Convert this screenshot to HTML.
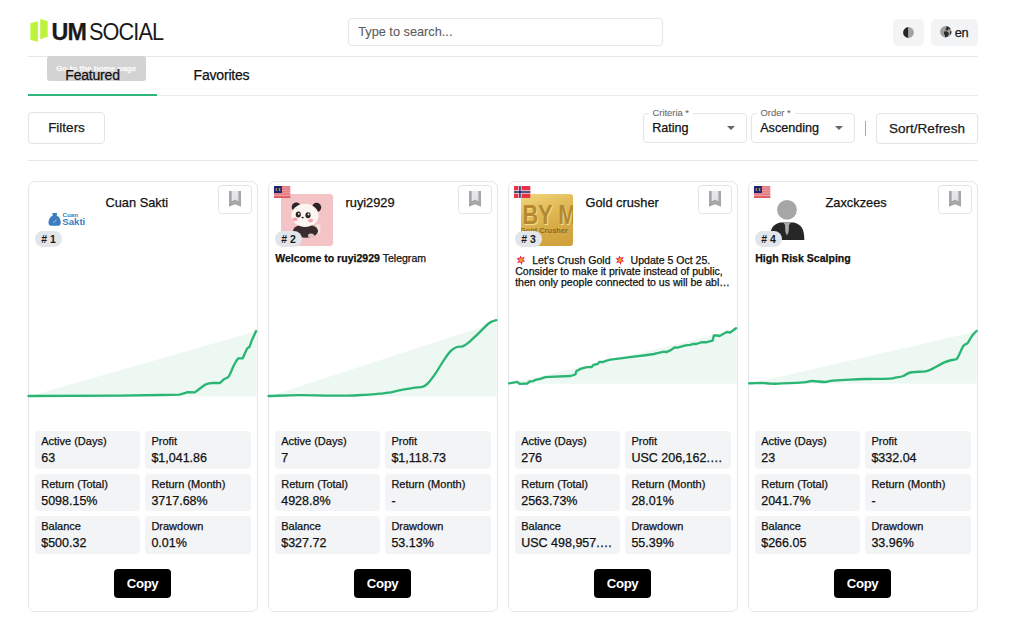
<!DOCTYPE html>
<html lang="en">
<head>
<meta charset="utf-8">
<title>UM Social</title>
<style>
*{box-sizing:border-box;margin:0;padding:0}
html,body{width:1024px;height:620px;overflow:hidden;background:#fff}
body{font-family:"Liberation Sans",Arial,sans-serif;color:#111;position:relative;-webkit-text-stroke:0.25px currentColor}
.abs{position:absolute}
/* header */
.logo{left:30px;top:18px;width:140px;height:26px}
.logo .b1{position:absolute;left:1px;top:4px;width:7.5px;height:20px;background:#c6f432;transform:skewY(-8deg)}
.logo .b2{position:absolute;left:10.5px;top:0.5px;width:7.5px;height:20px;background:#c6f432;transform:skewY(8deg)}
.logo .t{position:absolute;left:21.5px;top:0.8px;font-size:23.3px;line-height:26px;color:#1a1a1a;white-space:nowrap}
.logo .t b{font-weight:700;letter-spacing:-0.9px}
.logo .t span{display:inline-block;margin-left:2.6px;letter-spacing:-0.95px;transform:scaleX(0.93);transform-origin:0 0;-webkit-text-stroke:0}
.search{left:348px;top:18px;width:315px;height:28px;border:1px solid #e3e6ea;border-radius:4px;font-size:12.75px;color:#5c5c5c;padding:0 0 0 9.2px;line-height:26px;-webkit-text-stroke:0.1px currentColor}
.ibtn{top:19px;height:27px;background:#f3f4f6;border-radius:5px}
.hline{left:28px;width:950px;height:1px;background:#e6e8eb}
/* tabs */
.tab{top:62px;font-size:14px;line-height:26px;color:#111;text-align:center;letter-spacing:-0.2px;z-index:2}
.tip{left:47px;top:56.3px;width:98.5px;height:24.5px;background:#d3d3d3;border-radius:3px;color:rgba(255,255,255,.85);font-size:8.05px;line-height:26.5px;text-align:center;white-space:nowrap;font-weight:700;z-index:1}
/* filter row */
.btn{border:1px solid #e1e4e8;border-radius:4px;background:#fff;font-size:13.5px;color:#1a1a1a;text-align:center}
.sel{top:112.5px;height:30.5px;border:1px solid #e1e4e8;border-radius:4px}
.sel .lab{position:absolute;left:4.5px;top:-5.5px;background:#fff;padding:0 4px;font-size:9.4px;line-height:10px;color:#6a6a6a;-webkit-text-stroke:0.1px currentColor}
.sel .val{position:absolute;left:8.2px;top:6.5px;font-size:12.6px;line-height:16px;color:#111}
.sel .arr{position:absolute;right:11px;top:12.3px;width:0;height:0;border-left:4px solid transparent;border-right:4px solid transparent;border-top:4px solid #666}
/* cards */
.card{top:181px;width:230px;height:430.8px;border:1px solid #e3e6ea;border-radius:7px;background:#fff;overflow:hidden}
.card .name{position:absolute;left:76.5px;top:12.9px;font-size:12.8px;line-height:16px;color:#111;white-space:nowrap}
.card .bm{position:absolute;right:5px;top:3px;width:34px;height:29px;border:1px solid #e1e4e8;border-radius:4px}
.card .bm svg{position:absolute;left:9.8px;top:4.9px}
.card .flag{position:absolute;left:5.3px;top:3.9px;width:16.3px;height:12px}
.card .flag svg{display:block;width:100%;height:100%}
.card .av{position:absolute;left:12.2px;top:12.4px;width:52px;height:52px;border-radius:3px;overflow:hidden}
.card .rank{position:absolute;left:6px;top:49.3px;width:27px;height:16px;border-radius:8px;background:#e2e5ea;font-size:10.5px;line-height:16px;font-weight:700;text-align:center;color:#1a1a1a;-webkit-text-stroke:0}
.card .desc{position:absolute;left:6.2px;top:70.6px;width:217px;font-size:10.55px;line-height:11.1px;color:#111}
.card svg.chart{position:absolute;left:-1px;top:119px}
.stats{position:absolute;left:6.2px;top:249.4px;width:216px;display:grid;grid-template-columns:105px 105.4px;column-gap:5.2px;row-gap:5.1px}
.st{height:37.4px;background:#f3f4f6;border-radius:4px;padding:4px 6px 0 6px;white-space:nowrap;overflow:hidden}
.st .l{font-size:11px;line-height:12px;color:#111}
.st .v{font-size:12.5px;line-height:16px;color:#111;margin-top:2.8px;overflow:hidden;text-overflow:ellipsis}
.copy{position:absolute;left:85.3px;top:387px;width:56.5px;height:29px;background:#000;border-radius:4px;color:#fff;font-weight:700;font-size:13.2px;line-height:29.5px;text-align:center;letter-spacing:-0.35px;-webkit-text-stroke:0}
.clamp{display:-webkit-box;-webkit-line-clamp:3;-webkit-box-orient:vertical;overflow:hidden}
.emo{vertical-align:-0.6px;margin-right:2.8px;margin-left:1.3px}
</style>
</head>
<body>
<!-- header -->
<div class="abs logo"><svg class="abs" style="left:0;top:0" width="20" height="26" viewBox="30 18 20 26"><polygon points="30.4,23.3 37.9,21.2 37.9,42.1 30.4,39.8" fill="#bdf43b"/><polygon points="40.2,18.9 47.7,21.2 47.7,36.7 40.2,39.3" fill="#bdf43b"/></svg><div class="t"><b>UM</b><span>SOCIAL</span></div></div>
<div class="abs search">Type to search...</div>
<div class="abs ibtn" style="left:893px;width:31px"><svg class="abs" style="left:10px;top:7.6px" width="11" height="11" viewBox="0 0 11 11"><path d="M5.5,0.1A5.4,5.4 0 0 0 5.5,10.9Z" fill="#262626"/><path d="M5.5,0.1A5.4,5.4 0 0 1 5.5,10.9Z" fill="#a3a3a3"/></svg></div>
<div class="abs ibtn" style="left:931px;width:47px"><svg class="abs" style="left:9.2px;top:7.3px" width="11.6" height="11.6" viewBox="0 0 12 12"><circle cx="6" cy="6" r="5.9" fill="#a0a0a0"/><path d="M6.5,0.2C8,0.3 9.5,1 10.6,2.3L10,3.5L8.5,3.2L8,4.6L6.2,4.4L5.6,3L6.8,2.2Z" fill="#2b2b2b"/><path d="M4.2,5.8L6.5,5.5L8.6,6.5L9.2,8.3L8,10.6C7,11.5 6,11.8 5,11.7L5.3,9.8L4,8.2Z" fill="#2b2b2b"/><path d="M10.4,5.5L11.8,5.8C11.9,7 11.5,8.5 10.8,9.3L10.3,7.5Z" fill="#2b2b2b"/></svg><span class="abs" style="left:23.8px;top:5.5px;font-size:12.8px;line-height:16px;color:#1a1a1a;letter-spacing:-0.3px;-webkit-text-stroke:0.25px #1a1a1a">en</span></div>
<div class="abs hline" style="top:56px"></div>

<!-- tabs -->
<div class="abs tab" style="left:28px;width:129px">Featured</div>
<div class="abs tab" style="left:157px;width:129px">Favorites</div>
<div class="abs hline" style="top:95px;background:#e9ebee"></div>
<div class="abs" style="left:28px;top:94px;width:129px;height:2px;background:#2fb67a"></div>
<div class="abs tip">Go to the home page</div>

<!-- filter row -->
<div class="abs btn" style="left:28px;top:112px;width:77px;height:32px;line-height:30px">Filters</div>
<div class="abs sel" style="left:643px;width:104px"><span class="lab">Criteria *</span><span class="val">Rating</span><span class="arr"></span></div>
<div class="abs sel" style="left:751px;width:104px"><span class="lab">Order *</span><span class="val">Ascending</span><span class="arr"></span></div>
<div class="abs" style="left:865px;top:121.3px;width:1.2px;height:14.8px;background:#a8a8a8"></div>
<div class="abs btn" style="left:876px;top:113px;width:102px;height:31px;line-height:29px">Sort/Refresh</div>
<div class="abs hline" style="top:160px"></div>

<!-- card 1 -->
<div class="abs card" style="left:28px">
  <div class="name">Cuan Sakti</div>
  <div class="bm"><svg width="12.1" height="15.7" viewBox="0 0 12.1 15.7"><path d="M0,0H12.1V15.7L6.05,13.3L0,15.7Z" fill="#a6a6a6"/><path d="M2.7,0H9.4V10.2L6.05,8.6L2.7,10.2Z" fill="#e4e6e9"/></svg></div>
  <div class="av" style="background:#fff">
    <svg width="52" height="52" viewBox="0 0 52 52">
      <path d="M11.3,19.1H16.2L15.6,21.6C18.5,23 19.8,26 19.8,28.8C19.8,30.8 18.8,31.8 16.8,31.8H10.5C8.5,31.8 7.5,30.8 7.5,28.8C7.5,26 8.8,23 11.8,21.6Z" fill="#3b7dc0"/>
      <path d="M12.2,29.2L15.6,25.6" stroke="#d5e4f2" stroke-width="0.7"/>
      <text x="21.5" y="22.9" font-family="Liberation Sans,sans-serif" font-size="4.6" font-weight="700" fill="#3b7dc0" textLength="15.7" lengthAdjust="spacingAndGlyphs" style="-webkit-text-stroke:0">Cuan</text>
      <text x="21.3" y="31.2" font-family="Liberation Sans,sans-serif" font-size="8.7" font-weight="700" fill="#3b7dc0" textLength="23" lengthAdjust="spacingAndGlyphs" style="-webkit-text-stroke:0">Sakti</text>
    </svg>
  </div>
  <div class="rank"># 1</div>
  <div class="stats">
    <div class="st"><div class="l">Active (Days)</div><div class="v">63</div></div>
    <div class="st"><div class="l">Profit</div><div class="v">$1,041.86</div></div>
    <div class="st"><div class="l">Return (Total)</div><div class="v">5098.15%</div></div>
    <div class="st"><div class="l">Return (Month)</div><div class="v">3717.68%</div></div>
    <div class="st"><div class="l">Balance</div><div class="v">$500.32</div></div>
    <div class="st"><div class="l">Drawdown</div><div class="v">0.01%</div></div>
  </div>
  <div class="copy">Copy</div>
</div>

<!-- card 2 -->
<div class="abs card" style="left:268px">
  <div class="name">ruyi2929</div>
  <div class="bm"><svg width="12.1" height="15.7" viewBox="0 0 12.1 15.7"><path d="M0,0H12.1V15.7L6.05,13.3L0,15.7Z" fill="#a6a6a6"/><path d="M2.7,0H9.4V10.2L6.05,8.6L2.7,10.2Z" fill="#e4e6e9"/></svg></div>
  <div class="av" style="background:#f4c3c6">
    <svg width="52" height="52" viewBox="0 0 52 52">
      <ellipse cx="37" cy="35" rx="2.6" ry="5" fill="#efe4da"/>
      <ellipse cx="24.5" cy="37" rx="12.5" ry="6.8" fill="#3a2b2e"/>
      <ellipse cx="30" cy="41.5" rx="3" ry="2" fill="#d9c8c0"/>
      <circle cx="15.3" cy="13" r="4.6" fill="#2e2325"/>
      <circle cx="35.6" cy="13.4" r="4.6" fill="#2e2325"/>
      <ellipse cx="24" cy="21.4" rx="13.6" ry="11.6" fill="#fbf6ef"/>
      <ellipse cx="17.3" cy="20.6" rx="2.6" ry="3" fill="#2e2325"/>
      <ellipse cx="27" cy="21.2" rx="2.6" ry="3" fill="#2e2325"/>
      <circle cx="17.8" cy="19.8" r="0.9" fill="#fff"/>
      <circle cx="27.5" cy="20.4" r="0.9" fill="#fff"/>
      <ellipse cx="21.6" cy="23.6" rx="1.2" ry="0.8" fill="#2e2325"/>
      <ellipse cx="13.9" cy="25.4" rx="2.6" ry="1.8" fill="#f3a3b3"/>
      <ellipse cx="29.6" cy="26.6" rx="2.6" ry="1.8" fill="#f3a3b3"/>
    </svg>
  </div>
  <div class="flag"><svg viewBox="0 0 17 12" preserveAspectRatio="none"><rect width="17" height="12" fill="#ee9da1"/><rect y="0.00" width="17" height="0.43" fill="#db4f57"/><rect y="1.71" width="17" height="0.43" fill="#db4f57"/><rect y="3.43" width="17" height="0.43" fill="#db4f57"/><rect y="5.14" width="17" height="0.43" fill="#db4f57"/><rect y="6.86" width="17" height="0.43" fill="#db4f57"/><rect y="8.57" width="17" height="0.43" fill="#db4f57"/><rect y="10.29" width="17" height="0.43" fill="#db4f57"/><rect y="10.6" width="17" height="1.4" fill="#dd555c"/><rect width="8.3" height="7" fill="#1b2470"/><path d="M3.9,1.9C2.3,1.9 1.5,2.9 1.5,3.6C1.5,4.5 2.4,5.3 3.9,5.2C3.1,4.9 2.7,4.3 2.7,3.6C2.7,2.8 3.2,2.2 3.9,1.9Z" fill="#e3b23a"/><path d="M4.8,2.2H6.9L6.2,3.4L6.9,4.8H4.8L5.5,3.4Z" fill="#e3b23a"/></svg></div>
  <div class="rank"># 2</div>
  <div class="desc"><b>Welcome to ruyi2929</b> Telegram</div>
  <div class="stats">
    <div class="st"><div class="l">Active (Days)</div><div class="v">7</div></div>
    <div class="st"><div class="l">Profit</div><div class="v">$1,118.73</div></div>
    <div class="st"><div class="l">Return (Total)</div><div class="v">4928.8%</div></div>
    <div class="st"><div class="l">Return (Month)</div><div class="v">-</div></div>
    <div class="st"><div class="l">Balance</div><div class="v">$327.72</div></div>
    <div class="st"><div class="l">Drawdown</div><div class="v">53.13%</div></div>
  </div>
  <div class="copy">Copy</div>
</div>

<!-- card 3 -->
<div class="abs card" style="left:508px">
  <div class="name">Gold crusher</div>
  <div class="bm"><svg width="12.1" height="15.7" viewBox="0 0 12.1 15.7"><path d="M0,0H12.1V15.7L6.05,13.3L0,15.7Z" fill="#a6a6a6"/><path d="M2.7,0H9.4V10.2L6.05,8.6L2.7,10.2Z" fill="#e4e6e9"/></svg></div>
  <div class="av" style="background:linear-gradient(160deg,#f1d77f 0%,#e2bb58 35%,#d6aa45 65%,#cf9f3a 100%)">
    <svg width="52" height="52" viewBox="0 0 52 52">
      <text x="2.4" y="30.6" font-family="Liberation Sans,sans-serif" font-size="27" font-weight="700" fill="#f3dc8a" textLength="54" lengthAdjust="spacingAndGlyphs" style="-webkit-text-stroke:0">BY M</text>
      <text x="1.4" y="29.9" font-family="Liberation Sans,sans-serif" font-size="27" font-weight="700" fill="#b48a30" textLength="54" lengthAdjust="spacingAndGlyphs" style="-webkit-text-stroke:0">BY M</text>
      <text x="-1" y="38.6" font-family="Liberation Sans,sans-serif" font-size="8" font-weight="700" fill="#8d6a24" textLength="48" lengthAdjust="spacingAndGlyphs" style="-webkit-text-stroke:0">Gold Crusher</text>
    </svg>
  </div>
  <div class="flag"><svg viewBox="0 0 17 12" preserveAspectRatio="none"><rect width="17" height="12" fill="#e8324a"/><rect x="4.6" width="3.2" height="12" fill="#fff"/><rect y="4.4" width="17" height="3.2" fill="#fff"/><rect x="5.4" width="1.6" height="12" fill="#1d2f6b"/><rect y="5.2" width="17" height="1.6" fill="#1d2f6b"/></svg></div>
  <div class="rank"># 3</div>
  <div class="desc clamp" style="top:72.5px"><svg class="emo" width="10" height="10" viewBox="0 0 10 10"><path d="M4.20,0.47 L5.79,2.84 L8.83,1.79 L7.27,4.60 L9.04,6.47 L6.48,6.76 L5.87,9.92 L4.21,7.16 L1.02,8.34 L2.73,5.40 L0.30,3.29 L3.52,3.24Z" fill="#ec2550"/><path d="M2.2,2.2 L4.6,3.2 L3.4,4.6Z" fill="#d8168a" opacity=".7"/><circle cx="5" cy="5" r="1.9" fill="#f2a125"/></svg> Let’s Crush Gold <svg class="emo" width="10" height="10" viewBox="0 0 10 10"><path d="M4.20,0.47 L5.79,2.84 L8.83,1.79 L7.27,4.60 L9.04,6.47 L6.48,6.76 L5.87,9.92 L4.21,7.16 L1.02,8.34 L2.73,5.40 L0.30,3.29 L3.52,3.24Z" fill="#ec2550"/><path d="M2.2,2.2 L4.6,3.2 L3.4,4.6Z" fill="#d8168a" opacity=".7"/><circle cx="5" cy="5" r="1.9" fill="#f2a125"/></svg> Update 5 Oct 25. Consider to make it private instead of public, then only people connected to us will be able to see it and copy the trades.</div>
  <div class="stats">
    <div class="st"><div class="l">Active (Days)</div><div class="v">276</div></div>
    <div class="st"><div class="l">Profit</div><div class="v" style="width:91.5px">USC 206,162.13</div></div>
    <div class="st"><div class="l">Return (Total)</div><div class="v">2563.73%</div></div>
    <div class="st"><div class="l">Return (Month)</div><div class="v">28.01%</div></div>
    <div class="st"><div class="l">Balance</div><div class="v" style="width:91.5px">USC 498,957.21</div></div>
    <div class="st"><div class="l">Drawdown</div><div class="v">55.39%</div></div>
  </div>
  <div class="copy">Copy</div>
</div>

<!-- card 4 -->
<div class="abs card" style="left:748px">
  <div class="name">Zaxckzees</div>
  <div class="bm"><svg width="12.1" height="15.7" viewBox="0 0 12.1 15.7"><path d="M0,0H12.1V15.7L6.05,13.3L0,15.7Z" fill="#a6a6a6"/><path d="M2.7,0H9.4V10.2L6.05,8.6L2.7,10.2Z" fill="#e4e6e9"/></svg></div>
  <div class="av" style="background:#fff">
    <svg width="52" height="52" viewBox="0 0 52 52">
      <circle cx="26" cy="15.8" r="9.9" fill="#a6a6a6"/>
      <path d="M8.8 46 C8.8 36 11 30.5 19 28.5 L33 28.5 C41 30.5 43.3 36 43.3 46 Z" fill="#262626"/>
      <path d="M22.5 28.8 L29.5 28.8 L28 31 L27.6 38 L26 41.5 L24.4 38 L24 31 Z" fill="#a9a9a9"/>
    </svg>
  </div>
  <div class="flag"><svg viewBox="0 0 17 12" preserveAspectRatio="none"><rect width="17" height="12" fill="#ee9da1"/><rect y="0.00" width="17" height="0.43" fill="#db4f57"/><rect y="1.71" width="17" height="0.43" fill="#db4f57"/><rect y="3.43" width="17" height="0.43" fill="#db4f57"/><rect y="5.14" width="17" height="0.43" fill="#db4f57"/><rect y="6.86" width="17" height="0.43" fill="#db4f57"/><rect y="8.57" width="17" height="0.43" fill="#db4f57"/><rect y="10.29" width="17" height="0.43" fill="#db4f57"/><rect y="10.6" width="17" height="1.4" fill="#dd555c"/><rect width="8.3" height="7" fill="#1b2470"/><path d="M3.9,1.9C2.3,1.9 1.5,2.9 1.5,3.6C1.5,4.5 2.4,5.3 3.9,5.2C3.1,4.9 2.7,4.3 2.7,3.6C2.7,2.8 3.2,2.2 3.9,1.9Z" fill="#e3b23a"/><path d="M4.8,2.2H6.9L6.2,3.4L6.9,4.8H4.8L5.5,3.4Z" fill="#e3b23a"/></svg></div>
  <div class="rank"># 4</div>
  <div class="desc"><b>High Risk Scalping</b></div>
  <div class="stats">
    <div class="st"><div class="l">Active (Days)</div><div class="v">23</div></div>
    <div class="st"><div class="l">Profit</div><div class="v">$332.04</div></div>
    <div class="st"><div class="l">Return (Total)</div><div class="v">2041.7%</div></div>
    <div class="st"><div class="l">Return (Month)</div><div class="v">-</div></div>
    <div class="st"><div class="l">Balance</div><div class="v">$266.05</div></div>
    <div class="st"><div class="l">Drawdown</div><div class="v">33.96%</div></div>
  </div>
  <div class="copy">Copy</div>
</div>

<svg class="abs" style="left:0;top:0" width="1024" height="620" viewBox="0 0 1024 620">
<polygon points="28.5,396.5 256.5,331.0 256.5,396.5" fill="#edf8f3"/>
<polygon points="268.5,396.5 496.5,322.3 496.5,396.5" fill="#edf8f3"/>
<polygon points="508.5,383.8 736.5,330.0 736.5,383.8" fill="#edf8f3"/>
<polygon points="748.5,383.8 976.5,331.5 976.5,383.8" fill="#edf8f3"/>
<path d="M28.5,396.0 L120.0,395.6 L160.0,395.0 L179.4,394.6 L183.0,393.6 L187.7,392.2 L194.8,392.4 L198.0,390.0 L202.6,386.5 L205.8,384.3 L209.0,383.4 L212.9,383.0 L220.0,383.0 L223.2,379.8 L228.4,377.0 L230.3,373.5 L233.5,366.0 L236.0,361.5 L238.1,358.4 L242.6,358.4 L247.1,348.6 L249.7,346.5 L251.6,340.8 L253.5,336.8 L256.1,331.0" fill="none" stroke="#2bb574" stroke-width="2.35" stroke-linejoin="round" stroke-linecap="round"/>
<path d="M268.5,396.0 C273.6,395.9 289.6,395.3 299.0,395.2 C308.4,395.1 316.9,395.5 325.0,395.6 C333.1,395.7 341.2,395.7 347.9,395.6 C354.6,395.5 359.6,395.1 365.0,394.8 C370.4,394.5 376.1,394.0 380.0,393.6 C383.9,393.2 385.1,393.3 388.7,392.7 C392.3,392.1 397.4,390.6 401.8,389.8 C406.2,389.0 411.4,388.1 414.8,387.6 C418.2,387.1 419.9,387.6 422.1,386.9 C424.3,386.2 425.7,385.5 427.9,383.3 C430.1,381.1 432.5,377.8 435.2,373.9 C437.9,370.0 441.2,364.0 443.9,360.1 C446.5,356.2 448.9,352.8 451.1,350.6 C453.3,348.4 455.0,347.7 456.9,347.0 C458.8,346.3 460.8,347.0 462.7,346.3 C464.6,345.6 465.8,344.9 468.5,342.7 C471.2,340.5 475.6,336.2 478.7,333.2 C481.8,330.2 485.2,326.4 487.4,324.5 C489.6,322.6 490.3,322.3 491.8,321.6 C493.3,320.9 495.6,320.4 496.3,320.2" fill="none" stroke="#2bb574" stroke-width="2.35" stroke-linejoin="round" stroke-linecap="round"/>
<path d="M509.1,383.3 L517.3,381.9 L519.6,383.9 L527.3,383.5 L529.6,381.5 L533.1,381.2 L535.5,379.8 L540.2,378.8 L545.4,377.2 L549.5,376.8 L570.6,376.0 L575.3,374.5 L576.5,371.0 L581.2,368.6 L587.0,367.1 L591.7,367.1 L593.5,364.8 L597.6,364.0 L599.3,362.0 L603.4,362.0 L605.8,360.8 L610.5,359.6 L616.3,358.9 L622.2,358.1 L631.7,356.9 L643.4,355.5 L654.0,354.0 L657.5,353.1 L664.0,351.6 L666.3,352.2 L670.4,350.4 L674.5,347.5 L677.4,347.7 L685.6,345.4 L690.3,344.9 L693.2,343.8 L696.2,344.0 L702.0,342.2 L706.7,342.2 L712.6,340.7 L713.8,335.5 L717.3,335.5 L719.6,336.0 L726.6,332.0 L730.2,332.5 L736.0,328.2" fill="none" stroke="#2bb574" stroke-width="2.35" stroke-linejoin="round" stroke-linecap="round"/>
<path d="M749.1,383.4 C751.1,383.3 757.8,382.8 761.4,382.8 C765.0,382.9 767.3,383.6 770.8,383.7 C774.3,383.8 777.0,383.6 782.5,383.4 C788.0,383.2 798.7,382.8 803.6,382.4 C808.5,382.0 808.3,381.1 811.8,381.0 C815.3,380.9 821.2,382.1 824.7,382.0 C828.2,381.9 828.6,381.0 832.9,380.6 C837.2,380.2 845.1,379.9 850.5,379.6 C855.9,379.3 861.1,379.1 865.0,379.0 C868.9,378.9 869.9,379.0 874.1,378.9 C878.4,378.8 887.0,378.8 890.5,378.6 C894.0,378.4 893.1,378.1 895.2,377.7 C897.4,377.3 900.9,376.9 903.4,376.0 C905.9,375.1 906.7,373.3 910.4,372.5 C914.1,371.7 921.9,371.9 925.6,371.3 C929.3,370.7 929.6,370.1 932.7,368.6 C935.8,367.1 941.3,363.8 944.4,362.4 C947.5,361.0 949.4,360.6 951.4,360.1 C953.4,359.6 954.9,359.9 956.1,359.3 C957.3,358.7 957.2,358.5 958.4,356.3 C959.6,354.1 961.8,348.4 963.1,346.4 C964.4,344.3 965.3,344.6 966.1,344.0 C966.9,343.4 966.7,344.4 967.8,342.9 C968.9,341.4 971.0,337.2 972.5,335.2 C974.0,333.2 975.9,331.6 976.6,330.9" fill="none" stroke="#2bb574" stroke-width="2.35" stroke-linejoin="round" stroke-linecap="round"/>

</svg>

</body>
</html>
